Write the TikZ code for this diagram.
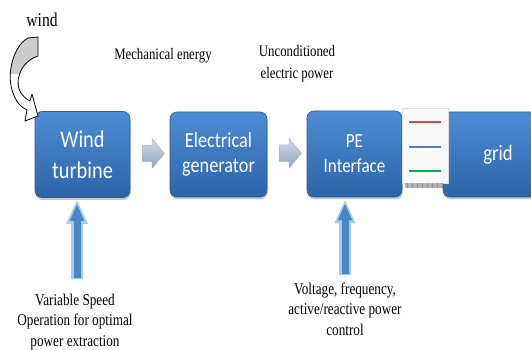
\documentclass[tikz,border=0pt]{standalone}
\usepackage{fontspec}
\setmainfont{Liberation Serif}[FakeStretch=0.8]
\newfontfamily\boxfont{Carlito}[FakeStretch=0.85]
\usetikzlibrary{shapes.arrows,shadows,calc,arrows.meta}
\definecolor{boxtop}{HTML}{4E8DD6}
\definecolor{boxbot}{HTML}{2C63A8}
\definecolor{boxedge}{HTML}{2A5C9A}
\definecolor{sarrtop}{HTML}{D4DEEA}
\definecolor{sarrbot}{HTML}{8EA2BE}
\definecolor{sarredge}{HTML}{A8B4C6}
\definecolor{arrlight}{HTML}{9ED0EC}
\definecolor{arrdark}{HTML}{4A86C8}
\definecolor{legred}{HTML}{C0504D}
\definecolor{legblue}{HTML}{4F81BD}
\definecolor{leggreen}{HTML}{00B050}
\begin{document}
\begin{tikzpicture}[x=1pt,y=-1pt,
  bluebox/.style={rounded corners=7pt, top color=boxtop, bottom color=boxbot,
    draw=boxedge, line width=0.6pt, text=white, align=center, inner sep=0pt,
    drop shadow={shadow xshift=0.5pt,shadow yshift=-2.5pt,opacity=0.35,fill=black!60}},
  smallarrow/.style={single arrow, top color=sarrtop, bottom color=sarrbot, draw=sarredge,
    line width=0.5pt, minimum height=22pt, inner xsep=0pt, inner ysep=8pt,
    single arrow head extend=6.5pt, single arrow tip angle=100},
  lbl/.style={align=center, font=\fontsize{16.5}{20.5}\selectfont, inner sep=0pt},
  legline/.style={line width=2.4pt}
]
\clip (0,0) rectangle (531,350);
\fill[white] (0,0) rectangle (531,350);

% boxes
\node[bluebox, minimum width=95pt, minimum height=86pt, font=\boxfont\fontsize{24}{31}\selectfont] (wt) at (82.5,154.5) {Wind\\turbine};
\node[bluebox, minimum width=97pt, minimum height=85pt, font=\boxfont\fontsize{21.5}{25}\selectfont] (eg) at (218.5,154.5) {Electrical\\generator};
\node[bluebox, minimum width=110pt, minimum height=85pt, font=\boxfont\fontsize{22}{26}\selectfont] (grid) at (498,154.5) {grid};
\node[bluebox, minimum width=95pt, minimum height=86pt, font=\boxfont\fontsize{20}{25}\selectfont] (pe) at (354.5,154) {PE\\Interface};

% legend box between PE and grid
\node[fill=gray!5, draw=gray!25, line width=0.4pt, minimum width=46pt, minimum height=75pt, inner sep=0pt] (leg) at (425,145.5) {};
\draw[legline, legred] ($(leg.north west)+(7,14.5)$) -- ($(leg.north east)+(-7,14.5)$);
\draw[legline, legblue] ($(leg.north west)+(7,39.5)$) -- ($(leg.north east)+(-7,39.5)$);
\draw[legline, leggreen] ($(leg.north west)+(7,63.5)$) -- ($(leg.north east)+(-7,63.5)$);
\fill[gray!60] ($(leg.south west)+(3,0)$) rectangle ($(leg.south east)+(-5,5)$);
\foreach \i in {0,...,7} {
  \draw[gray!85, line width=0.4pt] ($(leg.south west)+(5+\i*5,0)$) -- ++(0,5);
}

% small block arrows
\node[smallarrow] (sa1) at ($(wt.east)!0.5!(eg.west)+(0,-1)$) {};
\node[smallarrow] (sa2) at ($(eg.east)!0.5!(pe.west)+(0,-1)$) {};

% vertical input arrows
\coordinate (a1bot) at (77,279);
\coordinate (a2bot) at (345,275);
\draw[line width=12pt, arrlight, -{Triangle[width=20pt,length=24pt]}] (a1bot) -- ($(wt.south -| a1bot)+(0,2)$);
\draw[line width=7pt, arrdark, -{Triangle[width=13pt,length=17pt]}] ($(a1bot)+(0,-0.5)$) -- ($(wt.south -| a1bot)+(0,6)$);
\draw[line width=12pt, arrlight, -{Triangle[width=19pt,length=24pt]}] (a2bot) -- ($(pe.south -| a2bot)+(0,2)$);
\draw[line width=7pt, arrdark, -{Triangle[width=13pt,length=17pt]}] ($(a2bot)+(0,-0.5)$) -- ($(pe.south -| a2bot)+(0,6)$);

% curved wind arrow
\def\windpath{(28,38) -- (38,37) -- (38,56) .. controls (24,60) and (15,76) .. (19,89) .. controls (22,96) and (26,99) .. (30,101) -- (32,94) -- (38,116) -- (25,121) -- (27,110) .. controls (13,104) and (8,82) .. (11,68) .. controls (13,54) and (20,42) .. (28,38) -- cycle}
\fill[white] \windpath;
\begin{scope}
  \clip (0,0) rectangle (60,74);
  \fill[gray!40] \windpath;
\end{scope}
\draw[black, line width=0.8pt, line join=round] \windpath;

% texts
\node[font=\fontsize{19.5}{22}\selectfont, inner sep=0pt] (windlbl) at (42,20) {wind};
\node[lbl, font=\fontsize{16}{20}\selectfont] (mech) at (163,56) {Mechanical energy};
\node[lbl, font=\fontsize{16}{22}\selectfont] (uncond) at (297,64) {Unconditioned\\electric power};
\node[lbl] (vs) at (75,322) {Variable Speed\\Operation for optimal\\power extraction};
\node[lbl] (vf) at (345,309) {Voltage, frequency,\\active/reactive power\\control};
\end{tikzpicture}
\end{document}
